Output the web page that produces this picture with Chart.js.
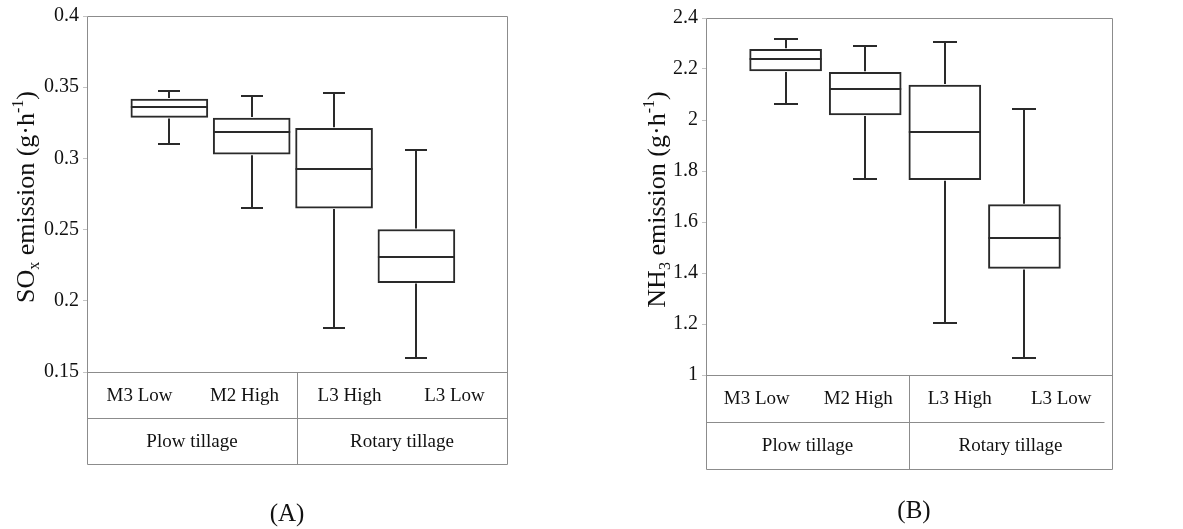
<!DOCTYPE html>
<html lang="en">
<head>
<meta charset="UTF-8">
<title>SOx and NH3 emission under plow and rotary tillage</title>
<script src="https://cdn.jsdelivr.net/npm/chart.js"></script>
<style>
  body { margin: 0; background: #fff; }
  canvas { position: absolute; top: 0; }
</style>
</head>
<body>
<canvas id="soxChart" width="560" height="529" style="left:0"></canvas>
<canvas id="nh3Chart" width="593" height="529" style="left:590px"></canvas>

<script>
// treatments, left to right, and the tillage group each pair belongs to
const treatments = ['M3 Low', 'M2 High', 'L3 High', 'L3 Low'];
const tillageGroups = ['Plow tillage', 'Rotary tillage'];
const boxPositions = [1, 2, 3, 4];

// SOx emission (g·h-1): whisker ends, quartiles, median
const soxMin = [0.310, 0.2655, 0.181, 0.160];
const soxQ1 = [0.3288, 0.3029, 0.2651, 0.2128];
const soxMedian = [0.3358, 0.3186, 0.2929, 0.2308];
const soxQ3 = [0.3417, 0.3284, 0.3211, 0.2501];
const soxMax = [0.3475, 0.3435, 0.3459, 0.3062];

// NH3 emission (g·h-1)
const nh3Min = [2.063, 1.769, 1.205, 1.065];
const nh3Q1 = [2.192, 2.020, 1.766, 1.418];
const nh3Median = [2.239, 2.123, 1.952, 1.537];
const nh3Q3 = [2.277, 2.187, 2.137, 1.668];
const nh3Max = [2.316, 2.289, 2.305, 2.043];

const soxTicks = { min: 0.15, max: 0.4, step: 0.05 };
const nh3Ticks = { min: 1, max: 2.4, step: 0.2 };

const SERIF = '"Liberation Serif", "Times New Roman", serif';
const INK = '#2a2a2a';
const FRAME = '#8c8c8c';

// rotated axis title with sub/superscript pieces
function drawVerticalTitle(ctx, parts, cx, cy, size) {
  const small = Math.round(size * 0.62);
  const fontFor = k => (k === 'n' ? size : small) + 'px ' + SERIF;
  ctx.save();
  ctx.translate(cx, cy);
  ctx.rotate(-Math.PI / 2);
  let total = 0;
  parts.forEach(p => {
    ctx.font = fontFor(p.k);
    p.w = ctx.measureText(p.t).width;
    total += p.w;
  });
  let x = -total / 2;
  ctx.fillStyle = '#111';
  ctx.textAlign = 'left';
  ctx.textBaseline = 'alphabetic';
  parts.forEach(p => {
    ctx.font = fontFor(p.k);
    const dy = p.k === 'sub' ? size * 0.2 : p.k === 'sup' ? -size * 0.4 : 0;
    ctx.fillText(p.t, x, size * 0.33 + dy);
    x += p.w;
  });
  ctx.restore();
}

// whiskers, medians, plot frame and the treatment/tillage table underneath
const boxPlotExtras = {
  id: 'boxPlotExtras',
  afterDatasetsDraw(chart, args, opts) {
    const { ctx } = chart;
    const y = chart.scales.y;
    const bars = chart.getDatasetMeta(0).data;
    ctx.save();
    ctx.strokeStyle = INK;
    ctx.lineWidth = 2;
    bars.forEach((bar, i) => {
      const half = bar.width / 2;
      const cap = opts.capWidth / 2;
      const yMed = Math.round(y.getPixelForValue(opts.median[i]));
      const yQ1 = y.getPixelForValue(opts.q1[i]);
      const yQ3 = y.getPixelForValue(opts.q3[i]);
      const yMin = Math.round(y.getPixelForValue(opts.min[i]));
      const yMax = Math.round(y.getPixelForValue(opts.max[i]));
      const x = Math.round(bar.x);
      ctx.beginPath();
      ctx.moveTo(bar.x - half, yMed);
      ctx.lineTo(bar.x + half, yMed);
      // upper whisker
      ctx.moveTo(x, yQ3 - 1);
      ctx.lineTo(x, yMax);
      ctx.moveTo(x - cap, yMax);
      ctx.lineTo(x + cap, yMax);
      // lower whisker
      ctx.moveTo(x, yQ1 + 1);
      ctx.lineTo(x, yMin);
      ctx.moveTo(x - cap, yMin);
      ctx.lineTo(x + cap, yMin);
      ctx.stroke();
    });
    ctx.restore();
  },
  afterDraw(chart, args, opts) {
    const { ctx, chartArea: ca } = chart;
    const xc = chart.scales.xc;
    const rowTop = ca.bottom;
    const rowMid = rowTop + opts.rowHeight;
    const rowEnd = rowMid + opts.rowHeight;
    const mid = (xc.getPixelForTick(1) + xc.getPixelForTick(2)) / 2;
    const L = ca.left + 0.5, R = ca.right + 0.5;

    ctx.save();
    ctx.strokeStyle = FRAME;
    ctx.lineWidth = 1;
    ctx.beginPath();
    ctx.rect(L, ca.top + 0.5, ca.right - ca.left, ca.bottom - ca.top);
    ctx.moveTo(L, rowTop); ctx.lineTo(L, rowEnd + 0.5);
    ctx.moveTo(R, rowTop); ctx.lineTo(R, rowEnd + 0.5);
    ctx.moveTo(Math.round(mid) + 0.5, rowTop); ctx.lineTo(Math.round(mid) + 0.5, rowEnd + 0.5);
    ctx.moveTo(L, rowMid + 0.5); ctx.lineTo(R - opts.midLineShort, rowMid + 0.5);
    ctx.moveTo(L, rowEnd + 0.5); ctx.lineTo(R, rowEnd + 0.5);
    ctx.stroke();

    ctx.fillStyle = '#111';
    ctx.textAlign = 'center';
    ctx.textBaseline = 'middle';
    ctx.font = '19px ' + SERIF;
    treatments.forEach((t, i) => {
      ctx.fillText(t, xc.getPixelForTick(i), (rowTop + rowMid) / 2 + 1);
    });
    tillageGroups.forEach((g, i) => {
      const gx = (xc.getPixelForTick(2 * i) + xc.getPixelForTick(2 * i + 1)) / 2;
      ctx.fillText(g, gx, (rowMid + rowEnd) / 2 + 1);
    });

    ctx.font = '25px ' + SERIF;
    ctx.fillText(opts.tag, opts.tagX, opts.tagY);
    ctx.restore();

    drawVerticalTitle(ctx, opts.title, opts.titleX, (ca.top + ca.bottom) / 2 + 3, 26);
  }
};

function makeBoxChart(id, s, ticks, look) {
  const decimals = ticks.step < 0.1 ? 2 : 1;
  return new Chart(document.getElementById(id), {
    type: 'bar',
    data: {
      datasets: [{
        data: boxPositions.map((p, i) => ({ x: p, y: [s.q1[i], s.q3[i]] })),
        backgroundColor: '#ffffff',
        borderColor: INK,
        borderWidth: 2,
        borderSkipped: false,
        barThickness: look.boxWidth
      }]
    },
    options: {
      responsive: false,
      animation: false,
      layout: { padding: look.padding },
      scales: {
        x: { type: 'linear', min: 0, max: 5.1, offset: false, display: false },
        xc: { type: 'category', labels: treatments, offset: true, display: false },
        y: {
          min: ticks.min,
          max: ticks.max,
          ticks: {
            stepSize: ticks.step,
            color: '#111',
            padding: 4,
            font: { family: SERIF, size: 20 },
            callback: v => String(+v.toFixed(decimals))
          },
          grid: { drawOnChartArea: false, drawTicks: true, tickLength: 4, color: '#c4c4c4' },
          border: { display: false },
          afterFit: scale => { scale.width = look.axisWidth; }
        }
      },
      plugins: {
        legend: { display: false },
        tooltip: { enabled: false },
        boxPlotExtras: Object.assign({}, s, look.extras)
      }
    },
    plugins: [boxPlotExtras]
  });
}

makeBoxChart('soxChart',
  { min: soxMin, q1: soxQ1, median: soxMedian, q3: soxQ3, max: soxMax },
  soxTicks,
  {
    boxWidth: 77,
    axisWidth: 87,
    padding: { left: 0, top: 15, right: 53, bottom: 157 },
    extras: {
      capWidth: 22, rowHeight: 46, midLineShort: 0,
      tag: '(A)', tagX: 287, tagY: 514, titleX: 25,
      title: [{ t: 'SO', k: 'n' }, { t: 'x', k: 'sub' }, { t: ' emission (g·h', k: 'n' }, { t: '-1', k: 'sup' }, { t: ')', k: 'n' }]
    }
  });

makeBoxChart('nh3Chart',
  { min: nh3Min, q1: nh3Q1, median: nh3Median, q3: nh3Q3, max: nh3Max },
  nh3Ticks,
  {
    boxWidth: 72,
    axisWidth: 116,
    padding: { left: 0, top: 18, right: 71, bottom: 154 },
    extras: {
      capWidth: 24, rowHeight: 47, midLineShort: 8,
      tag: '(B)', tagX: 324, tagY: 511, titleX: 66,
      title: [{ t: 'NH', k: 'n' }, { t: '3', k: 'sub' }, { t: ' emission (g·h', k: 'n' }, { t: '-1', k: 'sup' }, { t: ')', k: 'n' }]
    }
  });
</script>
</body>
</html>
